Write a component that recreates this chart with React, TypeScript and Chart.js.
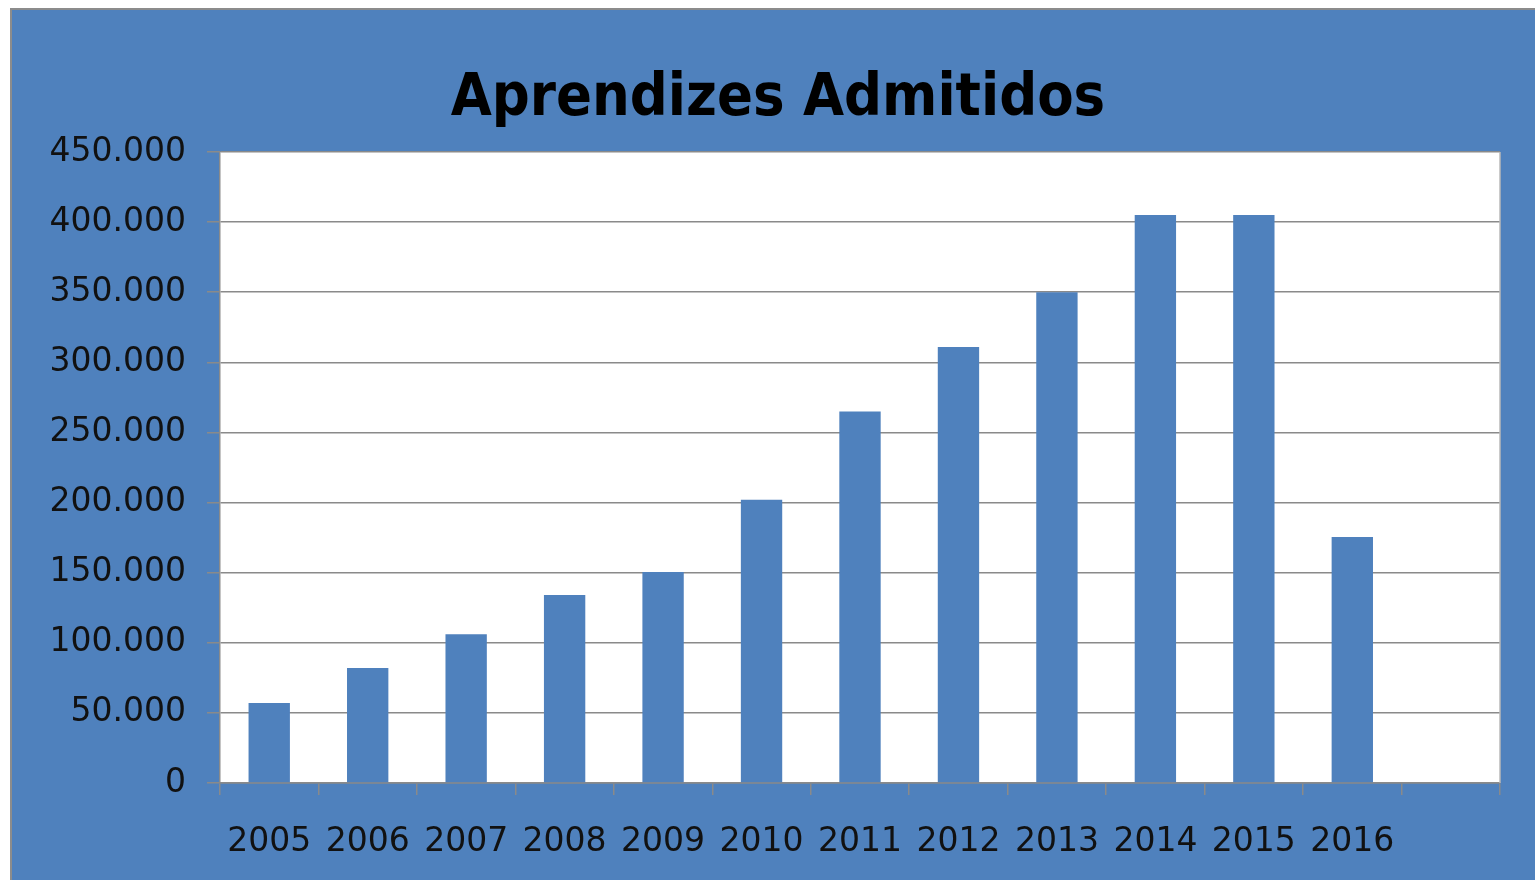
import React, { useEffect, useRef } from "react";
import { Chart, registerables } from "chart.js";

Chart.register(...registerables);

const years: string[] = ["2005", "2006", "2007", "2008", "2009", "2010", "2011", "2012", "2013", "2014", "2015", "2016", ""];
const admitted: (number | null)[] = [57000, 82000, 106000, 134000, 150500, 202000, 265000, 311000, 350000, 405000, 405000, 175500, null];
const chartTitle = "Aprendizes Admitidos";
const yMax = 450000;
const yStep = 50000;

const BLUE = "#4F81BD";

function fmt(v: number): string {
  return String(Math.round(v)).replace(/\B(?=(\d{3})+(?!\d))/g, ".");
}

const plotBg = {
  id: "plotBg",
  beforeDraw(chart: any) {
    const { ctx, chartArea } = chart;
    ctx.save();
    ctx.fillStyle = "#ffffff";
    ctx.fillRect(chartArea.left, chartArea.top, chartArea.right - chartArea.left, chartArea.bottom - chartArea.top);
    ctx.restore();
  },
  afterDraw(chart: any) {
    const { ctx, chartArea } = chart;
    ctx.save();
    ctx.strokeStyle = "#b8b8b8";
    ctx.lineWidth = 1.5;
    ctx.beginPath();
    ctx.moveTo(chartArea.right, chartArea.top);
    ctx.lineTo(chartArea.right, chartArea.bottom);
    ctx.stroke();
    // title
    ctx.fillStyle = "#000000";
    ctx.font = "bold 59px 'DejaVu Sans Condensed', 'DejaVu Sans', sans-serif";
    ctx.textAlign = "center";
    ctx.textBaseline = "alphabetic";
    ctx.fillText(chartTitle, 766, 105);
    ctx.restore();
  },
};

export default function App() {
  const ref = useRef<HTMLCanvasElement | null>(null);

  useEffect(() => {
    if (!ref.current) return;
    const chart = new Chart(ref.current, {
      type: "bar",
      data: {
        labels: years,
        datasets: [
          {
            data: admitted,
            backgroundColor: BLUE,
            borderWidth: 0,
            categoryPercentage: 1,
            barPercentage: 0.42,
          },
        ],
      },
      options: {
        animation: false,
        responsive: false,
        devicePixelRatio: 1,
        layout: { padding: { left: 0, right: 35, top: 142, bottom: 0 } },
        plugins: {
          legend: { display: false },
          tooltip: { enabled: false },
          title: { display: false },
        },
        scales: {
          x: {
            offset: true,
            grid: {
              display: true,
              drawOnChartArea: false,
              drawTicks: true,
              tickLength: 12,
              color: "#8a8a8a",
              lineWidth: 1.5,
              offset: true,
            },
            border: { display: true, color: "#8a8a8a", width: 1.5 },
            ticks: {
              color: "#111111",
              padding: 28,
              maxRotation: 0,
              autoSkip: false,
              font: { family: "'DejaVu Sans', sans-serif", size: 33 },
            },
            afterFit(scale: any) {
              scale.height = 97;
            },
          },
          y: {
            min: 0,
            max: yMax,
            grid: {
              color: "#8a8a8a",
              lineWidth: 1.5,
              tickLength: 13,
            },
            border: { display: true, color: "#8a8a8a", width: 1.5 },
            ticks: {
              stepSize: yStep,
              color: "#111111",
              padding: 21,
              font: { family: "'DejaVu Sans', sans-serif", size: 33 },
              callback: (v: any) => fmt(Number(v)),
            },
            afterFit(scale: any) {
              scale.width = 208;
            },
          },
        },
      },
      plugins: [plotBg],
    });
    return () => chart.destroy();
  }, []);

  return (
    <div
      style={{
        position: "fixed",
        left: 10,
        top: 8,
        width: 1525,
        height: 872,
        boxSizing: "border-box",
        borderTop: "2px solid #8c8c8c",
        borderLeft: "2px solid #8c8c8c",
        background: BLUE,
        overflow: "hidden",
      }}
    >
      <canvas ref={ref} width={1523} height={870} style={{ display: "block", width: 1523, height: 870 }} />
    </div>
  );
}
